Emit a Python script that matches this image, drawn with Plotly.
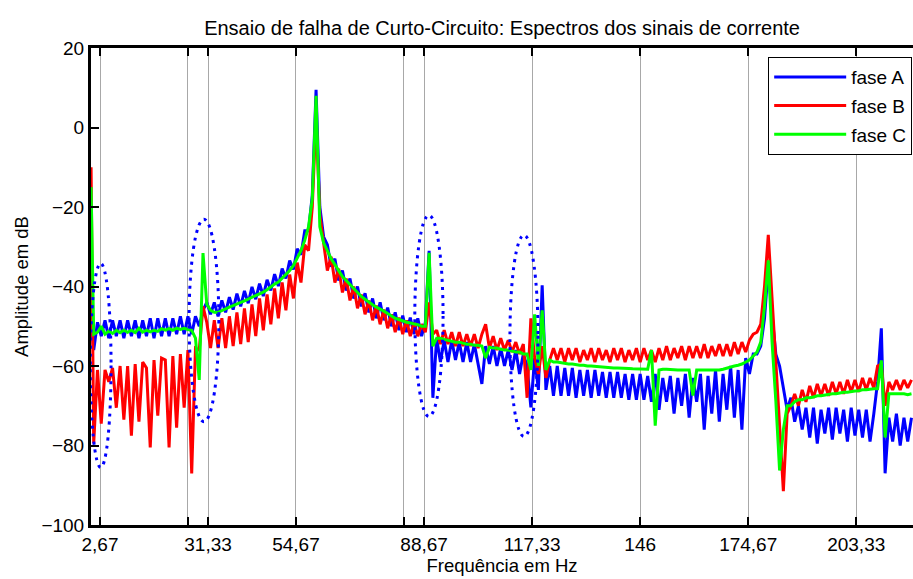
import plotly.graph_objects as go

# ---------------- data ----------------
FREQ_HZ = [0.3] + list(range(1, 219))

FASE_A_DB = [
    -49, -56, -49, -52.5, -48.5, -53, -48.5, -52.5, -48.5, -53,
    -48.5, -52.5, -48.5, -53, -48.5, -52.5, -48, -53, -48, -52.5,
    -48, -52.5, -48, -52, -47.5, -52, -47.5, -52, -47.5, -50,
    -46, -44, -47, -44, -47.5, -43.5, -46.5, -42.7, -45.8, -41.8,
    -45, -41.1, -44.2, -40.1, -43.2, -39.3, -42.4, -38.3, -41, -36.9,
    -39.9, -35.5, -38, -33.5, -35.7, -30.5, -32, -26, -26, -17,
    9.5, -20, -27.5, -29.5, -35, -33, -38.5, -36, -41, -38,
    -43, -40, -45, -41.7, -46.5, -43, -48, -44, -48.5, -45.3,
    -50, -46.5, -51, -47.3, -51.5, -47.8, -52, -48, -52.5, -49,
    -31, -68, -53, -59, -53.5, -59, -53.5, -58.5, -54, -59,
    -54, -59, -54.5, -59.5, -64.5, -55, -59.5, -55, -60, -55.5,
    -60, -56, -61, -56, -62, -57, -60, -70.4, -58, -66,
    -39.7, -66, -60, -67.5, -60, -67.5, -60.5, -67.5, -60.5, -68,
    -61, -67.5, -61, -68, -61, -67.5, -61.5, -68, -61.5, -68,
    -61.5, -68, -62, -68.5, -62, -68.5, -62, -68.5, -62.5, -69,
    -62, -71, -63, -69, -62.5, -72, -63, -70, -62, -73,
    -63, -69, -62, -76, -62.5, -72, -61, -74, -62, -71,
    -60, -73, -61, -76, -58, -62, -57, -57, -55, -48,
    -35, -47, -57, -60, -66, -71, -68, -74, -70, -76,
    -70.5, -78, -70.5, -79.5, -71, -77, -70.5, -78.5, -70.5, -77,
    -71, -79, -70.5, -77.5, -71, -78, -71, -79, -72, -64,
    -50.5, -87, -73, -79, -72, -80, -73, -79, -73,
]

FASE_B_DB = [
    -10, -79.5, -61, -74.5, -61, -64, -60.5, -70.5, -60, -73.5,
    -60, -77.5, -59.5, -74, -59, -60.5, -80.5, -58.5, -72.5, -58,
    -58.5, -80.5, -57.5, -75.5, -57, -70.5, -56, -87, -55.5, -56,
    -45, -49, -55.5, -48.5, -55.5, -48, -55.5, -47.5, -55, -46.5,
    -54.5, -45.5, -54, -44.5, -52.5, -43, -51, -42, -49.5, -40.5,
    -48, -39, -46, -37, -43, -34, -39, -29.5, -31, -20,
    3, -22, -29, -36, -32.5, -39, -35.5, -41.5, -38, -43.5,
    -40, -45.5, -42, -47, -43.5, -48.5, -44.8, -49.5, -45.8, -50.5,
    -47, -51.5, -47.8, -52, -48.5, -52.5, -49, -52.5, -49.5, -51.5,
    -44, -52, -51, -54.5, -51, -54.5, -51.5, -55, -51.5, -55,
    -52, -55, -52, -55.5, -52, -49.5, -55.5, -52.5, -56, -53,
    -56, -53.5, -56.5, -54, -57, -54.5, -68, -48, -58, -62,
    -55, -63, -58.5, -55.5, -58.5, -55.5, -59, -55.5, -58.5, -55.5,
    -59, -56, -58.5, -55.5, -59, -55.5, -58.5, -56, -59, -55.5,
    -58.5, -55.5, -59, -56, -58.5, -55.5, -59, -55.5, -58.5, -56,
    -59, -55.5, -58.5, -55, -58.5, -55.5, -58, -55, -58.5, -55,
    -58, -55, -58, -54.5, -58, -55, -57.5, -54.5, -57.5, -54.5,
    -57.5, -54, -57, -54, -56.5, -53.5, -52, -51.5, -49.5, -40,
    -27, -44, -61, -75, -91.5, -72, -70, -67, -70, -66,
    -69, -65, -68, -64.5, -67.5, -64.5, -67.5, -64, -67, -64,
    -67, -63.5, -66.5, -63.5, -66.5, -63, -66, -63, -65.5, -60,
    -59.5, -70, -64, -66, -63.5, -66, -63.5, -65.5, -63.5,
]

FASE_C_DB = [
    -15, -52, -51.5, -50, -52, -51.2, -51.8, -51, -51.6, -51,
    -51.5, -51, -51.6, -50.5, -51.5, -51, -51.4, -51, -51.3, -50.6,
    -51, -50.6, -51, -50.5, -50.8, -50.5, -50.8, -51, -53, -63.5,
    -31.6, -44.5, -46, -46.5, -46.5, -46, -45.5, -45.2, -44.8, -44.3,
    -44, -43.6, -43.2, -42.6, -42.2, -41.8, -41.4, -40.8, -40, -39.4,
    -38.9, -38, -37, -36, -34.7, -33, -31, -28.4, -25, -18,
    8, -25, -29, -31, -33, -34.5, -36, -37.5, -38.5, -39.5,
    -40.5, -41.5, -42.5, -43.2, -44, -44.6, -45.2, -45.6, -46.2, -46.8,
    -47.4, -48, -48.3, -48.7, -49, -49.2, -49.4, -49.6, -50, -50,
    -31.5, -55, -53, -53, -53.3, -53.5, -53.8, -54, -54, -54.3,
    -54.5, -54.5, -54.8, -54.8, -55, -58, -55.3, -55.5, -55.5, -55.8,
    -56, -56, -56.3, -56.5, -56.5, -57, -57, -61, -47, -60,
    -46, -61, -58.5, -59, -59, -59.2, -59.3, -59.5, -59.5, -59.7,
    -59.8, -59.8, -60, -60, -60.1, -60.2, -60.2, -60.3, -60.4, -60.5,
    -60.5, -60.5, -60.6, -60.6, -60.7, -60.7, -60.7, -60.8, -60.8, -56,
    -75, -61, -60.8, -60.8, -60.9, -61, -61, -61, -61, -61,
    -67.4, -61, -61, -61, -61.1, -61.1, -61, -61, -60.8, -60.5,
    -60.3, -60, -59.8, -59.5, -59, -58.5, -57.5, -56.5, -54, -45,
    -33.4, -54, -68.7, -86.3, -76, -70, -70, -69, -68.5, -68.5,
    -68, -68, -67.8, -67.5, -67.5, -67.3, -67.2, -67, -67, -66.8,
    -66.6, -66.6, -66.4, -66.3, -66.2, -66, -66, -65.8, -65.7, -65.7,
    -58.6, -78, -67, -67, -67, -67, -67, -67.2, -67,
]

SERIES_NAMES = ["fase A", "fase B", "fase C"]
SERIES_COLORS = ["#0000ff", "#ff0000", "#00ff00"]

X_TICK_VALUES = [2.67, 26, 31.33, 54.67, 83.33, 88.67, 117.33, 146, 174.67, 203.33]
X_TICK_LABELS = ["2,67", "", "31,33", "54,67", "", "88,67", "117,33", "146", "174,67", "203,33"]
Y_TICK_VALUES = [-100, -80, -60, -40, -20, 0, 20]

# highlighted regions (dotted ellipses): (f_min, f_max, dB_min, dB_max)
ELLIPSE_F_MIN = [0.1, 26.3, 86.2, 111.45]
ELLIPSE_F_MAX = [5.6, 34.2, 93.7, 118.9]
ELLIPSE_DB_MIN = [-85.5, -74.0, -72.7, -77.7]
ELLIPSE_DB_MAX = [-34.2, -23.1, -22.1, -27.1]

X_RANGE = [0.28, 218.4]
Y_RANGE = [-100, 20]

FONT = "Liberation Sans, Arial, Helvetica, sans-serif"

assert len(FASE_A_DB) == len(FREQ_HZ)
assert len(FASE_B_DB) == len(FREQ_HZ)
assert len(FASE_C_DB) == len(FREQ_HZ)

fig = go.Figure()
for name, color, ys in zip(SERIES_NAMES, SERIES_COLORS, [FASE_A_DB, FASE_B_DB, FASE_C_DB]):
    fig.add_trace(go.Scatter(
        x=FREQ_HZ, y=ys, mode="lines", name=name,
        line=dict(color=color, width=3), legendgroup=name,
    ))

for f0, f1, d0, d1 in zip(ELLIPSE_F_MIN, ELLIPSE_F_MAX, ELLIPSE_DB_MIN, ELLIPSE_DB_MAX):
    fig.add_shape(type="circle", xref="x", yref="y", x0=f0, x1=f1, y0=d0, y1=d1,
                  line=dict(color="#0000ff", width=3, dash="3px,5px"))

fig.update_layout(
    width=913, height=579,
    margin=dict(l=91, r=0, t=48, b=54),
    paper_bgcolor="white", plot_bgcolor="white",
    font=dict(family=FONT, size=19, color="black"),
    title=dict(text="Ensaio de falha de Curto-Circuito: Espectros dos sinais de corrente",
               x=0.5499, xanchor="center", xref="container",
               y=1 - 28 / 579, yanchor="middle", yref="container",
               font=dict(size=20)),
    showlegend=True,
    legend=dict(x=0.999, xanchor="right", y=0.981, yanchor="top",
                bgcolor="white", bordercolor="black", borderwidth=1,
                font=dict(size=19), traceorder="grouped", tracegroupgap=1,
                itemwidth=72),
)

fig.update_xaxes(
    range=X_RANGE, tickmode="array", tickvals=X_TICK_VALUES, ticktext=X_TICK_LABELS,
    ticks="inside", ticklen=8, tickwidth=2, tickcolor="black",
    showline=True, linecolor="black", linewidth=3, mirror="ticks",
    showgrid=True, gridcolor="#a8a8a8", gridwidth=1, zeroline=False,
    title=dict(text="Frequência em Hz", standoff=6, font=dict(size=18.5)),
)
fig.update_yaxes(
    range=Y_RANGE, tickmode="array", tickvals=Y_TICK_VALUES,
    ticks="inside", ticklen=8, tickwidth=2, tickcolor="black",
    showline=True, linecolor="black", linewidth=3,
    showgrid=False, zeroline=False,
    title=dict(text="Amplitude em dB", standoff=8, font=dict(size=18.5)),
)

fig.write_html("out.html")
